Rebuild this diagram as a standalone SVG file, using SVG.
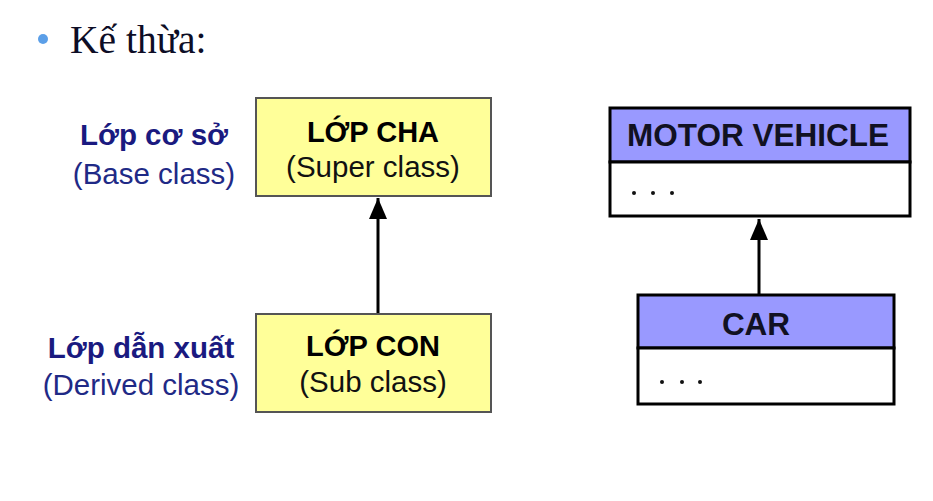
<svg xmlns="http://www.w3.org/2000/svg" width="933" height="501" viewBox="0 0 933 501">
<style>
.ybox{fill:#FFFF99;stroke:#555555;stroke-width:2}
.hdr{fill:#9999FF;stroke:#000;stroke-width:3}
.body{fill:#FFFFFF;stroke:#000;stroke-width:3}
.bt{font-family:"Liberation Sans",Arial,sans-serif;font-weight:bold;font-size:29px;fill:#000;text-anchor:middle}
.rt{font-family:"Liberation Sans",Arial,sans-serif;font-size:29.5px;fill:#111;text-anchor:middle}
.lb{font-family:"Liberation Sans",Arial,sans-serif;font-weight:bold;font-size:29.5px;fill:#1A1A80;text-anchor:middle}
.lr{font-family:"Liberation Sans",Arial,sans-serif;font-size:29.5px;fill:#1F2A86;text-anchor:middle}
.ut{font-family:"Liberation Sans",Arial,sans-serif;font-weight:bold;font-size:31.5px;fill:#111122;text-anchor:middle}
.conn{stroke:#000;stroke-width:3;fill:none}
</style>
<defs>
<marker id="arr" markerWidth="7" markerHeight="6" refX="7" refY="3" orient="auto" markerUnits="strokeWidth">
<path d="M0,0 L7,3 L0,6 Z" fill="#000"/>
</marker>
</defs>
<rect width="933" height="501" fill="#FFFFFF"/>
<g id="title">
<circle cx="43" cy="39" r="5" fill="#5B9FE8"/>
<text x="70" y="53" font-family="'Liberation Serif','Times New Roman',serif" font-size="39.5" fill="#0D0D26">Kế thừa:</text>
</g>
<g id="label-base">
<text class="lb" x="154" y="145">Lớp cơ sở</text>
<text class="lr" x="154" y="184">(Base class)</text>
</g>
<g id="label-derived">
<text class="lb" x="141" y="358">Lớp dẫn xuất</text>
<text class="lr" x="141" y="395">(Derived class)</text>
</g>
<g id="lop-cha">
<rect class="ybox" x="256" y="98" width="235" height="98"/>
<text class="bt" x="373" y="142">LỚP CHA</text>
<text class="rt" x="373" y="177">(Super class)</text>
</g>
<g id="lop-con">
<rect class="ybox" x="256" y="314" width="235" height="98"/>
<text class="bt" x="373" y="356">LỚP CON</text>
<text class="rt" x="373" y="392">(Sub class)</text>
</g>
<g id="motor-vehicle">
<rect class="hdr" x="610" y="108" width="300" height="54"/>
<rect class="body" x="610" y="162" width="300" height="54"/>
<text class="ut" x="758" y="146">MOTOR VEHICLE</text>
<circle cx="634" cy="193" r="2" fill="#111"/>
<circle cx="653" cy="193" r="2" fill="#111"/>
<circle cx="672" cy="193" r="2" fill="#111"/>
</g>
<g id="car">
<rect class="hdr" x="638" y="295" width="256" height="53"/>
<rect class="body" x="638" y="348" width="256" height="56"/>
<text class="ut" x="756" y="335">CAR</text>
<circle cx="662" cy="382" r="2" fill="#111"/>
<circle cx="682" cy="382" r="2" fill="#111"/>
<circle cx="700" cy="382" r="2" fill="#111"/>
</g>
<g id="connectors">
<line class="conn" x1="378" y1="313" x2="378" y2="198" marker-end="url(#arr)"/>
<line class="conn" x1="759" y1="294" x2="759" y2="219" marker-end="url(#arr)"/>
</g>
</svg>
